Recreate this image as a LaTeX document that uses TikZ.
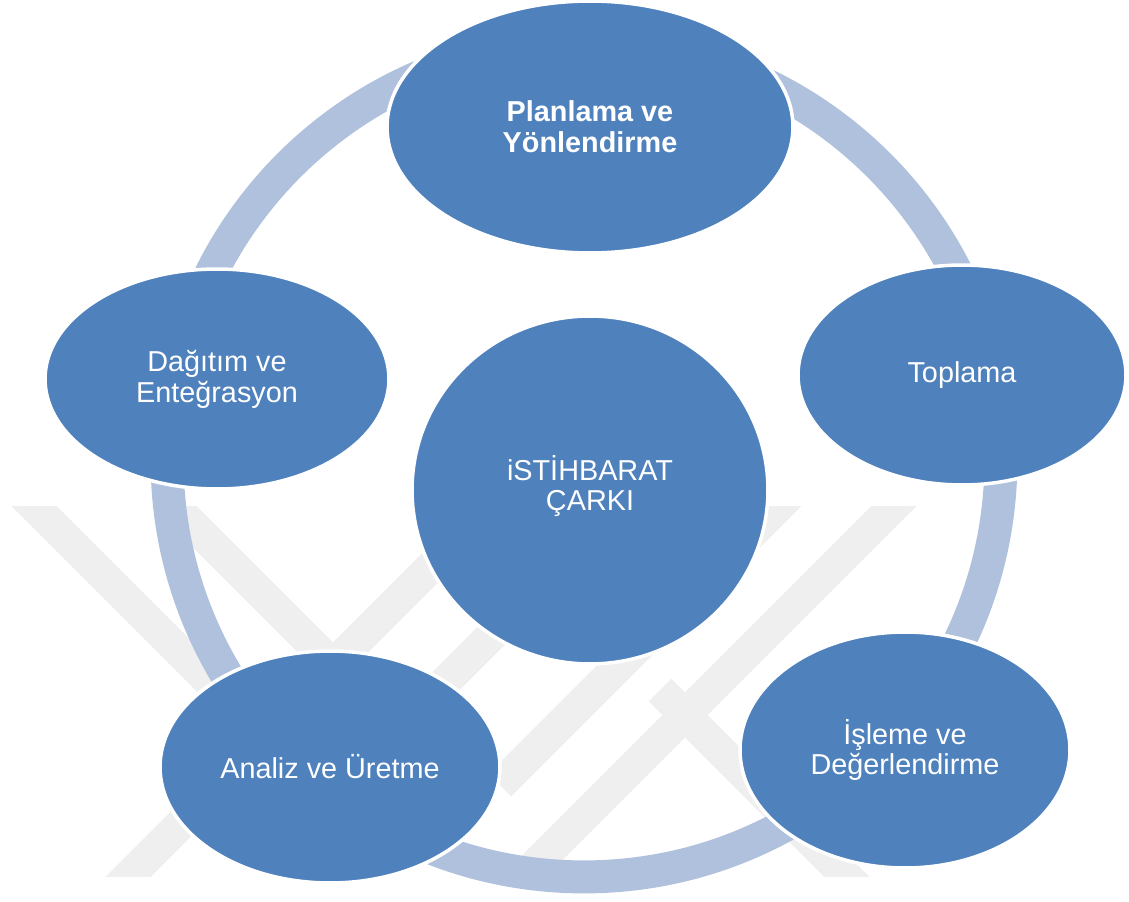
\documentclass[tikz,border=0pt]{standalone}
\usepackage{fontspec}
\setmainfont{Liberation Sans}
\usetikzlibrary{shapes.geometric}
\definecolor{nodeblue}{HTML}{4F81BD}
\definecolor{ringblue}{HTML}{B0C1DD}
\definecolor{wmgray}{HTML}{EFEFEF}
\begin{document}
\begin{tikzpicture}[x=0.02cm,y=-0.02cm,
  phase/.style={ellipse, fill=nodeblue, draw=white, line width=2pt, text=white,
    align=center, inner sep=0pt, font=\fontsize{16.4}{17.5}\selectfont},
  band/.style={draw=wmgray, line width=0.64cm, line join=miter},
  ring/.style={draw=ringblue, line width=0.66cm}]
\useasboundingbox (0,0) rectangle (1129,902);
% faint watermark
\begin{scope}
  \clip (0,506) rectangle (1129,876);
  \draw[band] (15,487) -- (380,852);
  \draw[band] (155,487) -- (333,665) -- (511,487);
  \draw[band] (85,920) -- (290,715);
  \draw[band] (380,747) -- (560,567);
  \draw[band] (510,890) -- (925,475);
  \draw[band] (798,487) -- (500,785);
  \draw[band] (660,690) -- (860,890);
\end{scope}
% cycle ring
\draw[ring] (584,460) circle [radius=8.34cm];
% phases
\node[phase, minimum width=8.12cm, minimum height=5.04cm,
  font=\fontsize{16.4}{17.5}\selectfont\bfseries] (plan) at (590,127) {Planlama ve\\Yönlendirme};
\node[phase, minimum width=6.56cm, minimum height=4.4cm] (topl) at (962,375) {Toplama};
\node[phase, minimum width=6.6cm, minimum height=4.72cm] (isle) at (905,750) {İşleme ve\\Değerlendirme};
\node[phase, minimum width=6.8cm, minimum height=4.64cm] (anal) at (330,767) {Analiz ve Üretme};
\node[phase, minimum width=6.88cm, minimum height=4.4cm] (dagi) at (217,379) {Dağıtım ve\\Enteğrasyon};
\node[phase, minimum width=7.12cm, minimum height=6.96cm] (cark) at (590,490) {};
\node[text=white, align=center, font=\fontsize{16.4}{17.5}\selectfont] (carktext) at (590,486) {iSTİHBARAT\\ÇARKI};
\end{tikzpicture}
\end{document}
